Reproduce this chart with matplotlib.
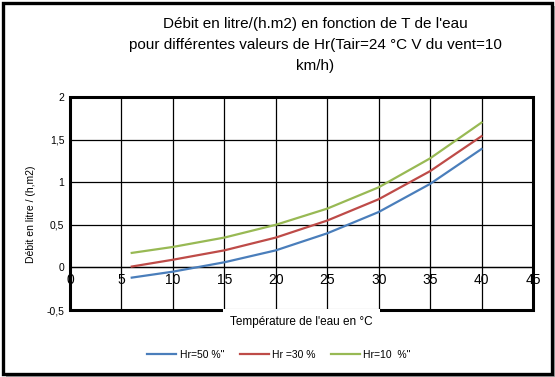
import matplotlib.pyplot as plt
from matplotlib.patches import Rectangle

# water temperature (°C)
temps = [6, 10, 15, 20, 25, 30, 35, 40]

# flow in litre/(h.m2)
hr50 = [-0.12, -0.05, 0.06, 0.20, 0.40, 0.65, 0.98, 1.39]
hr30 = [0.01, 0.09, 0.20, 0.35, 0.55, 0.80, 1.13, 1.54]
hr10 = [0.17, 0.24, 0.35, 0.50, 0.69, 0.94, 1.28, 1.70]

labels = ['Hr=50 %"', 'Hr =30 %', 'Hr=10  %"']
colors = ['#4a7ebb', '#be4b48', '#98b954']

xticks = [0, 5, 10, 15, 20, 25, 30, 35, 40, 45]
yticks = [-0.5, 0, 0.5, 1, 1.5, 2]

plt.rcParams['font.family'] = ['Liberation Sans', 'DejaVu Sans']

W, H = 555, 377
fig = plt.figure(figsize=(W / 100, H / 100), dpi=100)

def fx(px):
    return px / W

def fy(py):
    return 1 - py / H

# shadow + outer border
fig.patches.append(Rectangle((fx(6), fy(377)), fx(549), 371 / H, transform=fig.transFigure,
                             facecolor='#a6a6a6', edgecolor='none', zorder=-2))
fig.patches.append(Rectangle((fx(3), fy(374)), fx(549), 371 / H, transform=fig.transFigure,
                             facecolor='white', edgecolor='black', lw=2.4, zorder=-1))

ax = fig.add_axes([fx(70), fy(310), fx(463), 213 / H])
ax.set_zorder(1)
ax.set_facecolor('none')

for y, lab, c in zip([hr50, hr30, hr10], labels, colors):
    ax.plot(temps, y, color=c, lw=1.6, label=lab, zorder=3)

ax.set_xlim(0, 45)
ax.set_ylim(-0.5, 2)
ax.set_xticks(xticks)
ax.set_yticks(yticks)
ax.set_xticklabels([str(t) for t in xticks], fontsize=7.5)
ax.set_yticklabels([str(t).replace('.', ',') if t % 1 else str(int(t)) for t in yticks], fontsize=7.5)
ax.grid(True, color='black', lw=0.9)
ax.tick_params(length=0, pad=4)

# x axis crosses at y=0
for s in ['top', 'left', 'right']:
    ax.spines[s].set_visible(False)
ax.spines['bottom'].set_position(('data', 0))
ax.spines['bottom'].set_linewidth(0.9)
ax.add_patch(Rectangle((0, 0), 1, 1, transform=ax.transAxes, fill=False,
                       edgecolor='black', lw=2.2, zorder=4, clip_on=False))

# white gap behind x label
fig.patches.append(Rectangle((fx(223), fy(332)), fx(157), 23 / H, transform=fig.transFigure,
                             facecolor='white', edgecolor='none', zorder=5))
fig.text(fx(301), fy(322), "Température de l'eau en °C", ha='center', va='center',
         fontsize=8.5, zorder=6)

fig.text(fx(31), fy(214), 'Débit en litre / (h,m2)', ha='center', va='center',
         rotation=90, fontsize=7.5)

fig.text(fx(315), fy(45), "Débit en litre/(h.m2) en fonction de T de l'eau\n"
         "pour différentes valeurs de Hr(Tair=24 °C V du vent=10\nkm/h)",
         ha='center', va='center', fontsize=11, linespacing=1.6)

fig.legend(loc='center', bbox_to_anchor=(fx(279), fy(355)), ncol=3, frameon=False,
           fontsize=7.5, handlelength=2.8, columnspacing=1.5, handletextpad=0.3)

fig.savefig('out.png', dpi=100)
